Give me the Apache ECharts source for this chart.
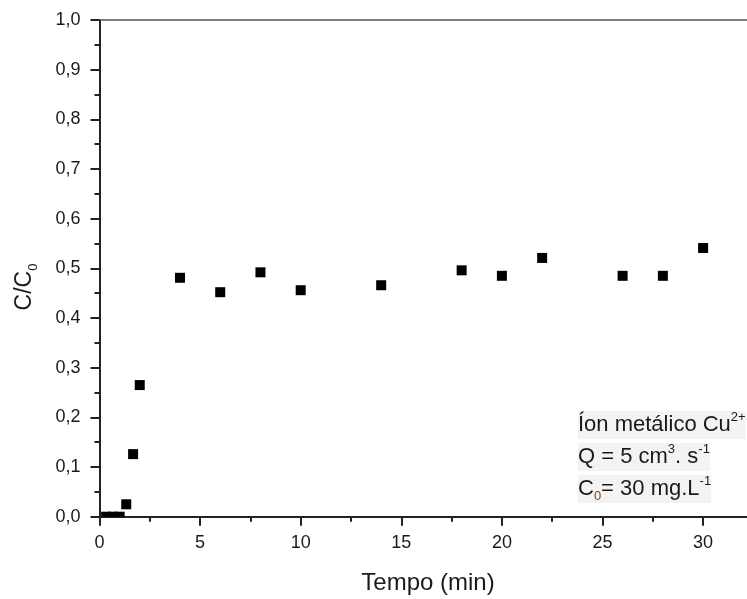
<!DOCTYPE html>
<html>
<head>
<meta charset="utf-8">
<script src="https://cdn.jsdelivr.net/npm/echarts@6/dist/echarts.min.js"></script>
<style>
html,body{margin:0;padding:0;background:#fff;}
#chart{width:747px;height:599px;}
</style>
</head>
<body>
<div id="chart"></div>
<script>
// Data
const tempo = [0.33, 0.67, 1.0, 1.33, 1.67, 2, 4, 6, 8, 10, 14, 18, 20, 22, 26, 28, 30];
const ratio = [0, 0, 0, 0.025, 0.126, 0.265, 0.481, 0.452, 0.492, 0.456, 0.466, 0.496, 0.485, 0.521, 0.485, 0.485, 0.541];
const xTicks = [0, 5, 10, 15, 20, 25, 30];
const yTicks = ['0,0','0,1','0,2','0,3','0,4','0,5','0,6','0,7','0,8','0,9','1,0'];

const FONT = '"Liberation Sans", Arial, sans-serif';
const TXT = '#1a1a1a';

const chart = echarts.init(document.getElementById('chart'), null, {renderer: 'canvas'});

const points = tempo.map((t, i) => [t, ratio[i]]);

const legendRich = {
  t: {fontSize: 22, fontFamily: FONT, fill: TXT, lineHeight: 28},
  p: {fontSize: 13, fontFamily: FONT, fill: TXT, lineHeight: 10, verticalAlign: 'top'},
  s: {fontSize: 13, fontFamily: FONT, fill: '#7a4a20', lineHeight: 10, verticalAlign: 'bottom'}
};

const option = {
  backgroundColor: '#ffffff',
  animation: false,
  grid: {left: 99.5, top: 20, right: -56.7, bottom: 82.3, containLabel: false, outerBoundsMode: 'none'},
  xAxis: [{
    type: 'value', min: 0, max: 35, interval: 5,
    axisLine: {show: true, onZero: false, lineStyle: {color: '#222', width: 2}},
    axisTick: {show: true, inside: false, length: 9, lineStyle: {color: '#222', width: 2}},
    minorTick: {show: true, splitNumber: 2, length: 5, lineStyle: {color: '#222', width: 2}},
    splitLine: {show: false},
    axisLabel: {
      margin: 17, fontSize: 18, color: TXT, fontFamily: FONT,
      formatter: v => (xTicks.indexOf(v) >= 0 ? String(v) : '')
    }
  }, {
    type: 'value', min: 0, max: 35, position: 'top',
    axisLine: {show: true, onZero: false, lineStyle: {color: '#555', width: 1.5}},
    axisTick: {show: false}, axisLabel: {show: false}, splitLine: {show: false}
  }],
  yAxis: {
    type: 'value', min: 0, max: 1, interval: 0.1,
    axisLine: {show: true, onZero: false, lineStyle: {color: '#222', width: 2}},
    axisTick: {show: true, inside: false, length: 9, lineStyle: {color: '#222', width: 2}},
    minorTick: {show: true, splitNumber: 2, length: 5, lineStyle: {color: '#222', width: 2}},
    splitLine: {show: false},
    axisLabel: {
      margin: 19, fontSize: 18, color: TXT, fontFamily: FONT,
      formatter: v => yTicks[Math.round(v * 10)]
    }
  },
  series: [{
    type: 'scatter',
    xAxisIndex: 0,
    data: points,
    symbol: 'rect',
    symbolSize: v => (v[1] <= 0 ? [10, 5] : 10),
    symbolOffset: v => (v[1] <= 0 ? [0, -2.5] : [0, 0]),
    itemStyle: {color: '#000', opacity: 1},
    clip: false,
    z: 3
  }],
  graphic: [
    {
      type: 'text', x: 428, y: 583,
      style: {text: 'Tempo (min)', font: '24px ' + FONT, fill: TXT, align: 'center', verticalAlign: 'middle'}
    },
    {
      type: 'text', x: 25, y: 287, rotation: Math.PI / 2,
      style: {
        text: '{b|C/C}{s|0}', align: 'center', verticalAlign: 'middle', fill: TXT,
        rich: {
          b: {fontSize: 23, fontFamily: FONT, fill: TXT, lineHeight: 30},
          s: {fontSize: 13, fontFamily: FONT, fill: TXT, lineHeight: 12, verticalAlign: 'bottom'}
        }
      }
    },
    {
      type: 'text', x: 578, y: 425,
      style: {
        text: '{t|Íon metálico Cu}{p|2+}', align: 'left', verticalAlign: 'middle',
        backgroundColor: '#f3f3f3', rich: legendRich
      }
    },
    {
      type: 'text', x: 578, y: 457,
      style: {
        text: '{t|Q = 5 cm}{p|3}{t|. s}{p|-1}', align: 'left', verticalAlign: 'middle',
        backgroundColor: '#f3f3f3', rich: legendRich
      }
    },
    {
      type: 'text', x: 578, y: 489,
      style: {
        text: '{t|C}{s|0}{t|= 30 mg.L}{p|-1}', align: 'left', verticalAlign: 'middle',
        backgroundColor: '#f3f3f3', rich: legendRich
      }
    }
  ]
};

chart.setOption(option);
</script>
</body>
</html>
